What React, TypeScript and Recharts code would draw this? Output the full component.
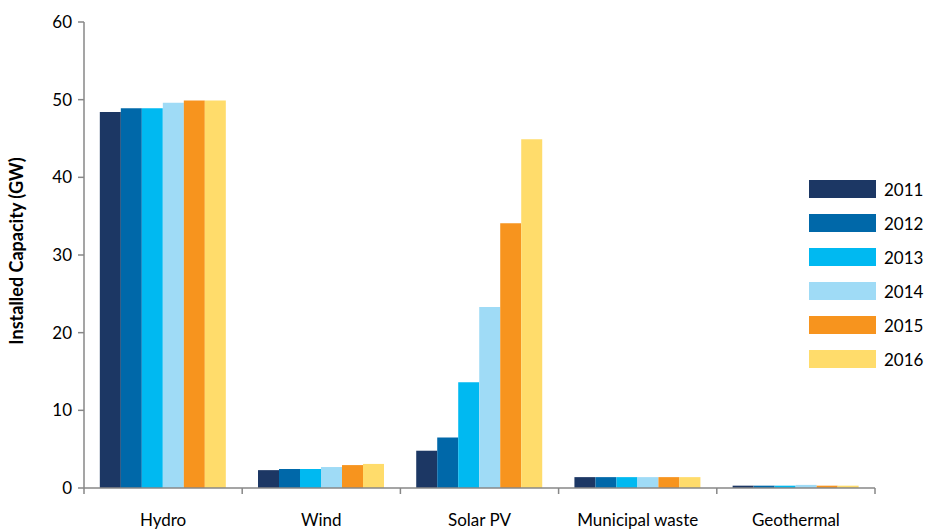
import { Bar, BarChart, Legend, XAxis, YAxis } from "recharts"

const CATEGORIES = ["Hydro", "Wind", "Solar PV", "Municipal waste", "Geothermal"]
const YEARS = ["2011", "2012", "2013", "2014", "2015", "2016"]
const COLORS = ["#1c3764", "#0068a9", "#00b9f1", "#9fdbf6", "#f7941e", "#ffdc6b"]

// capacity in GW, one array per year, in CATEGORIES order
const Y2011 = [48.4, 2.3, 4.8, 1.4, 0.3]
const Y2012 = [48.9, 2.45, 6.5, 1.4, 0.3]
const Y2013 = [48.9, 2.45, 13.6, 1.4, 0.3]
const Y2014 = [49.6, 2.7, 23.3, 1.4, 0.4]
const Y2015 = [49.9, 2.95, 34.1, 1.4, 0.3]
const Y2016 = [49.9, 3.1, 44.9, 1.4, 0.3]

const SERIES = [Y2011, Y2012, Y2013, Y2014, Y2015, Y2016]
const Y_TICKS = [0, 10, 20, 30, 40, 50, 60]

const data = CATEGORIES.map((name, i) => {
  const row: Record<string, string | number> = { name }
  YEARS.forEach((y, s) => {
    row[y] = SERIES[s][i]
  })
  return row
})

const FONT = "Lato, 'Open Sans', sans-serif"
const AXIS = "#878787"
const axisStroke = { stroke: AXIS, strokeWidth: 1.5 }
const yTick = { fill: "#000", fontSize: 17, fontFamily: FONT }

// category label plus Excel-style tick marks on the category boundaries
function CatTick(props: any) {
  const { x, y, payload, index, width } = props
  const band = (width || 791) / CATEGORIES.length
  const left = x - band / 2
  const right = x + band / 2
  return (
    <g>
      <line x1={left} x2={left} y1={y} y2={y + 6} {...axisStroke} />
      {index === CATEGORIES.length - 1 && <line x1={right} x2={right} y1={y} y2={y + 6} {...axisStroke} />}
      <text x={x} y={y + 26} dy="0.71em" textAnchor="middle" fill="#000" fontSize={17} fontFamily={FONT}>
        {payload.value}
      </text>
    </g>
  )
}

function YearLegend() {
  return (
    <div style={{ fontFamily: FONT }}>
      {YEARS.map((y, i) => (
        <div key={y} style={{ display: "flex", alignItems: "center", height: 34 }}>
          <span style={{ width: 67, height: 18, background: COLORS[i], display: "inline-block" }} />
          <span style={{ marginLeft: 8, fontSize: 17, color: "#000" }}>{y}</span>
        </div>
      ))}
    </div>
  )
}

export default function App() {
  return (
    <div style={{ position: "absolute", left: 0, top: 0, width: 928, height: 530, background: "#fff" }}>
      <BarChart
        width={928}
        height={530}
        data={data}
        margin={{ top: 22, right: 53, left: 0, bottom: 0 }}
        barCategoryGap="10%"
        barGap={0}
      >
        <XAxis
          dataKey="name"
          height={42}
          axisLine={axisStroke}
          tickLine={false}
          tickSize={0}
          tickMargin={0}
          tick={CatTick}
          interval={0}
        />
        <YAxis
          width={84}
          domain={[0, 60]}
          ticks={Y_TICKS}
          tickSize={6}
          tickMargin={6}
          stroke={AXIS}
          axisLine={axisStroke}
          tickLine={axisStroke}
          tick={yTick}
          label={{
            value: "Installed Capacity (GW)",
            angle: -90,
            position: "insideLeft",
            dx: 12,
            dy: -4,
            style: { textAnchor: "middle", fontWeight: 700, fontSize: 18, fill: "#000", fontFamily: FONT },
          }}
        />
        <Legend
          layout="horizontal"
          verticalAlign="middle"
          align="center"
          content={() => <YearLegend />}
          wrapperStyle={{ position: "absolute", left: 809, top: 172, width: 120, height: 210 }}
        />
        {YEARS.map((y, i) => (
          <Bar key={y} dataKey={y} fill={COLORS[i]} isAnimationActive={false} />
        ))}
      </BarChart>
    </div>
  )
}
